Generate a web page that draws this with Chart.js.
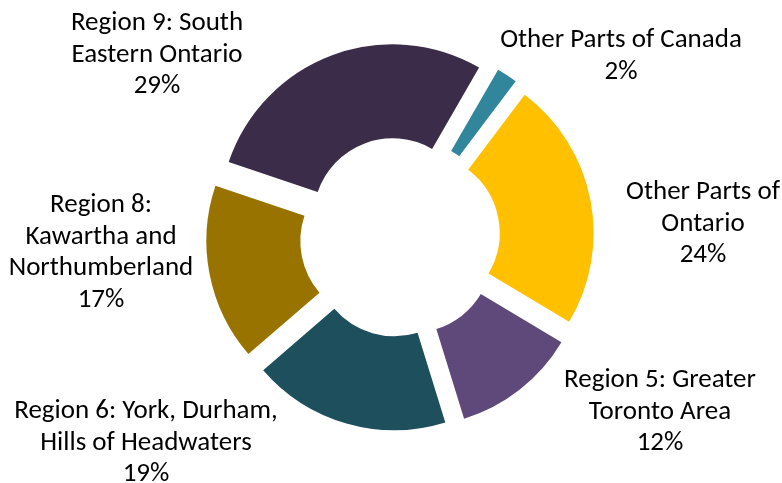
<!DOCTYPE html>
<html>
<head>
<meta charset="utf-8">
<script src="https://cdn.jsdelivr.net/npm/chart.js@4/dist/chart.umd.min.js"></script>
<style>
  html, body { margin: 0; padding: 0; background: #ffffff; }
  #wrap { width: 782px; height: 483px; }
</style>
</head>
<body>
<div id="wrap"><canvas id="regions" width="782" height="483"></canvas></div>
<script>
// Share by region, clockwise from "Other Parts of Canada"
const regions = [
  "Other Parts of Canada",
  "Other Parts of Ontario",
  "Region 5: Greater Toronto Area",
  "Region 6: York, Durham, Hills of Headwaters",
  "Region 8: Kawartha and Northumberland",
  "Region 9: South Eastern Ontario",
];
const shares = [2, 24, 12, 19, 17, 29];
const colors = ["#31869B", "#FFC000", "#5F497A", "#1E4F5C", "#997300", "#3B2D4A"];

// how each label wraps
const labelLines = [
  ["Other Parts of Canada"],
  ["Other Parts of", "Ontario"],
  ["Region 5: Greater", "Toronto Area"],
  ["Region 6: York, Durham,", "Hills of Headwaters"],
  ["Region 8:", "Kawartha and", "Northumberland"],
  ["Region 9: South", "Eastern Ontario"],
];
// label anchor: centre x, first baseline y
const labelAnchors = [
  [621, 47], [703, 199], [660, 387], [146, 418], [101, 212], [157, 30],
];

const labelFont = "27px Calibri, Carlito, 'Open Sans', sans-serif";
const lineGap = 31.5;

// draws every slice pushed out along its own mid angle
const explodeSlices = {
  id: "explodeSlices",
  beforeDatasetsDraw(chart, args, opts) {
    const ctx = chart.ctx;
    chart.getDatasetMeta(0).data.forEach((arc) => {
      const mid = (arc.startAngle + arc.endAngle) / 2;
      ctx.save();
      ctx.translate(Math.cos(mid) * opts.shift, Math.sin(mid) * opts.shift);
      arc.draw(ctx);
      ctx.restore();
    });
    return false;
  },
};

const sliceLabels = {
  id: "sliceLabels",
  afterDraw(chart) {
    const ctx = chart.ctx;
    ctx.save();
    ctx.font = labelFont;
    ctx.fillStyle = "#000000";
    ctx.textAlign = "center";
    ctx.textBaseline = "alphabetic";
    shares.forEach((v, i) => {
      const [x, y] = labelAnchors[i];
      const lines = labelLines[i].concat([v + "%"]);
      lines.forEach((t, k) => ctx.fillText(t, x, Math.round(y + k * lineGap)));
    });
    ctx.restore();
  },
};

new Chart(document.getElementById("regions"), {
  type: "doughnut",
  data: {
    labels: regions,
    datasets: [
      {
        data: shares,
        backgroundColor: colors,
        borderWidth: 0,
      },
    ],
  },
  options: {
    responsive: false,
    animation: false,
    rotation: 30,
    radius: 173,
    cutout: "45.7%",
    layout: { padding: { left: 18, right: 0, top: 0, bottom: 9 } },
    plugins: {
      legend: { display: false },
      tooltip: { enabled: false },
      explodeSlices: { shift: 21 },
    },
  },
  plugins: [explodeSlices, sliceLabels],
});
</script>
</body>
</html>
